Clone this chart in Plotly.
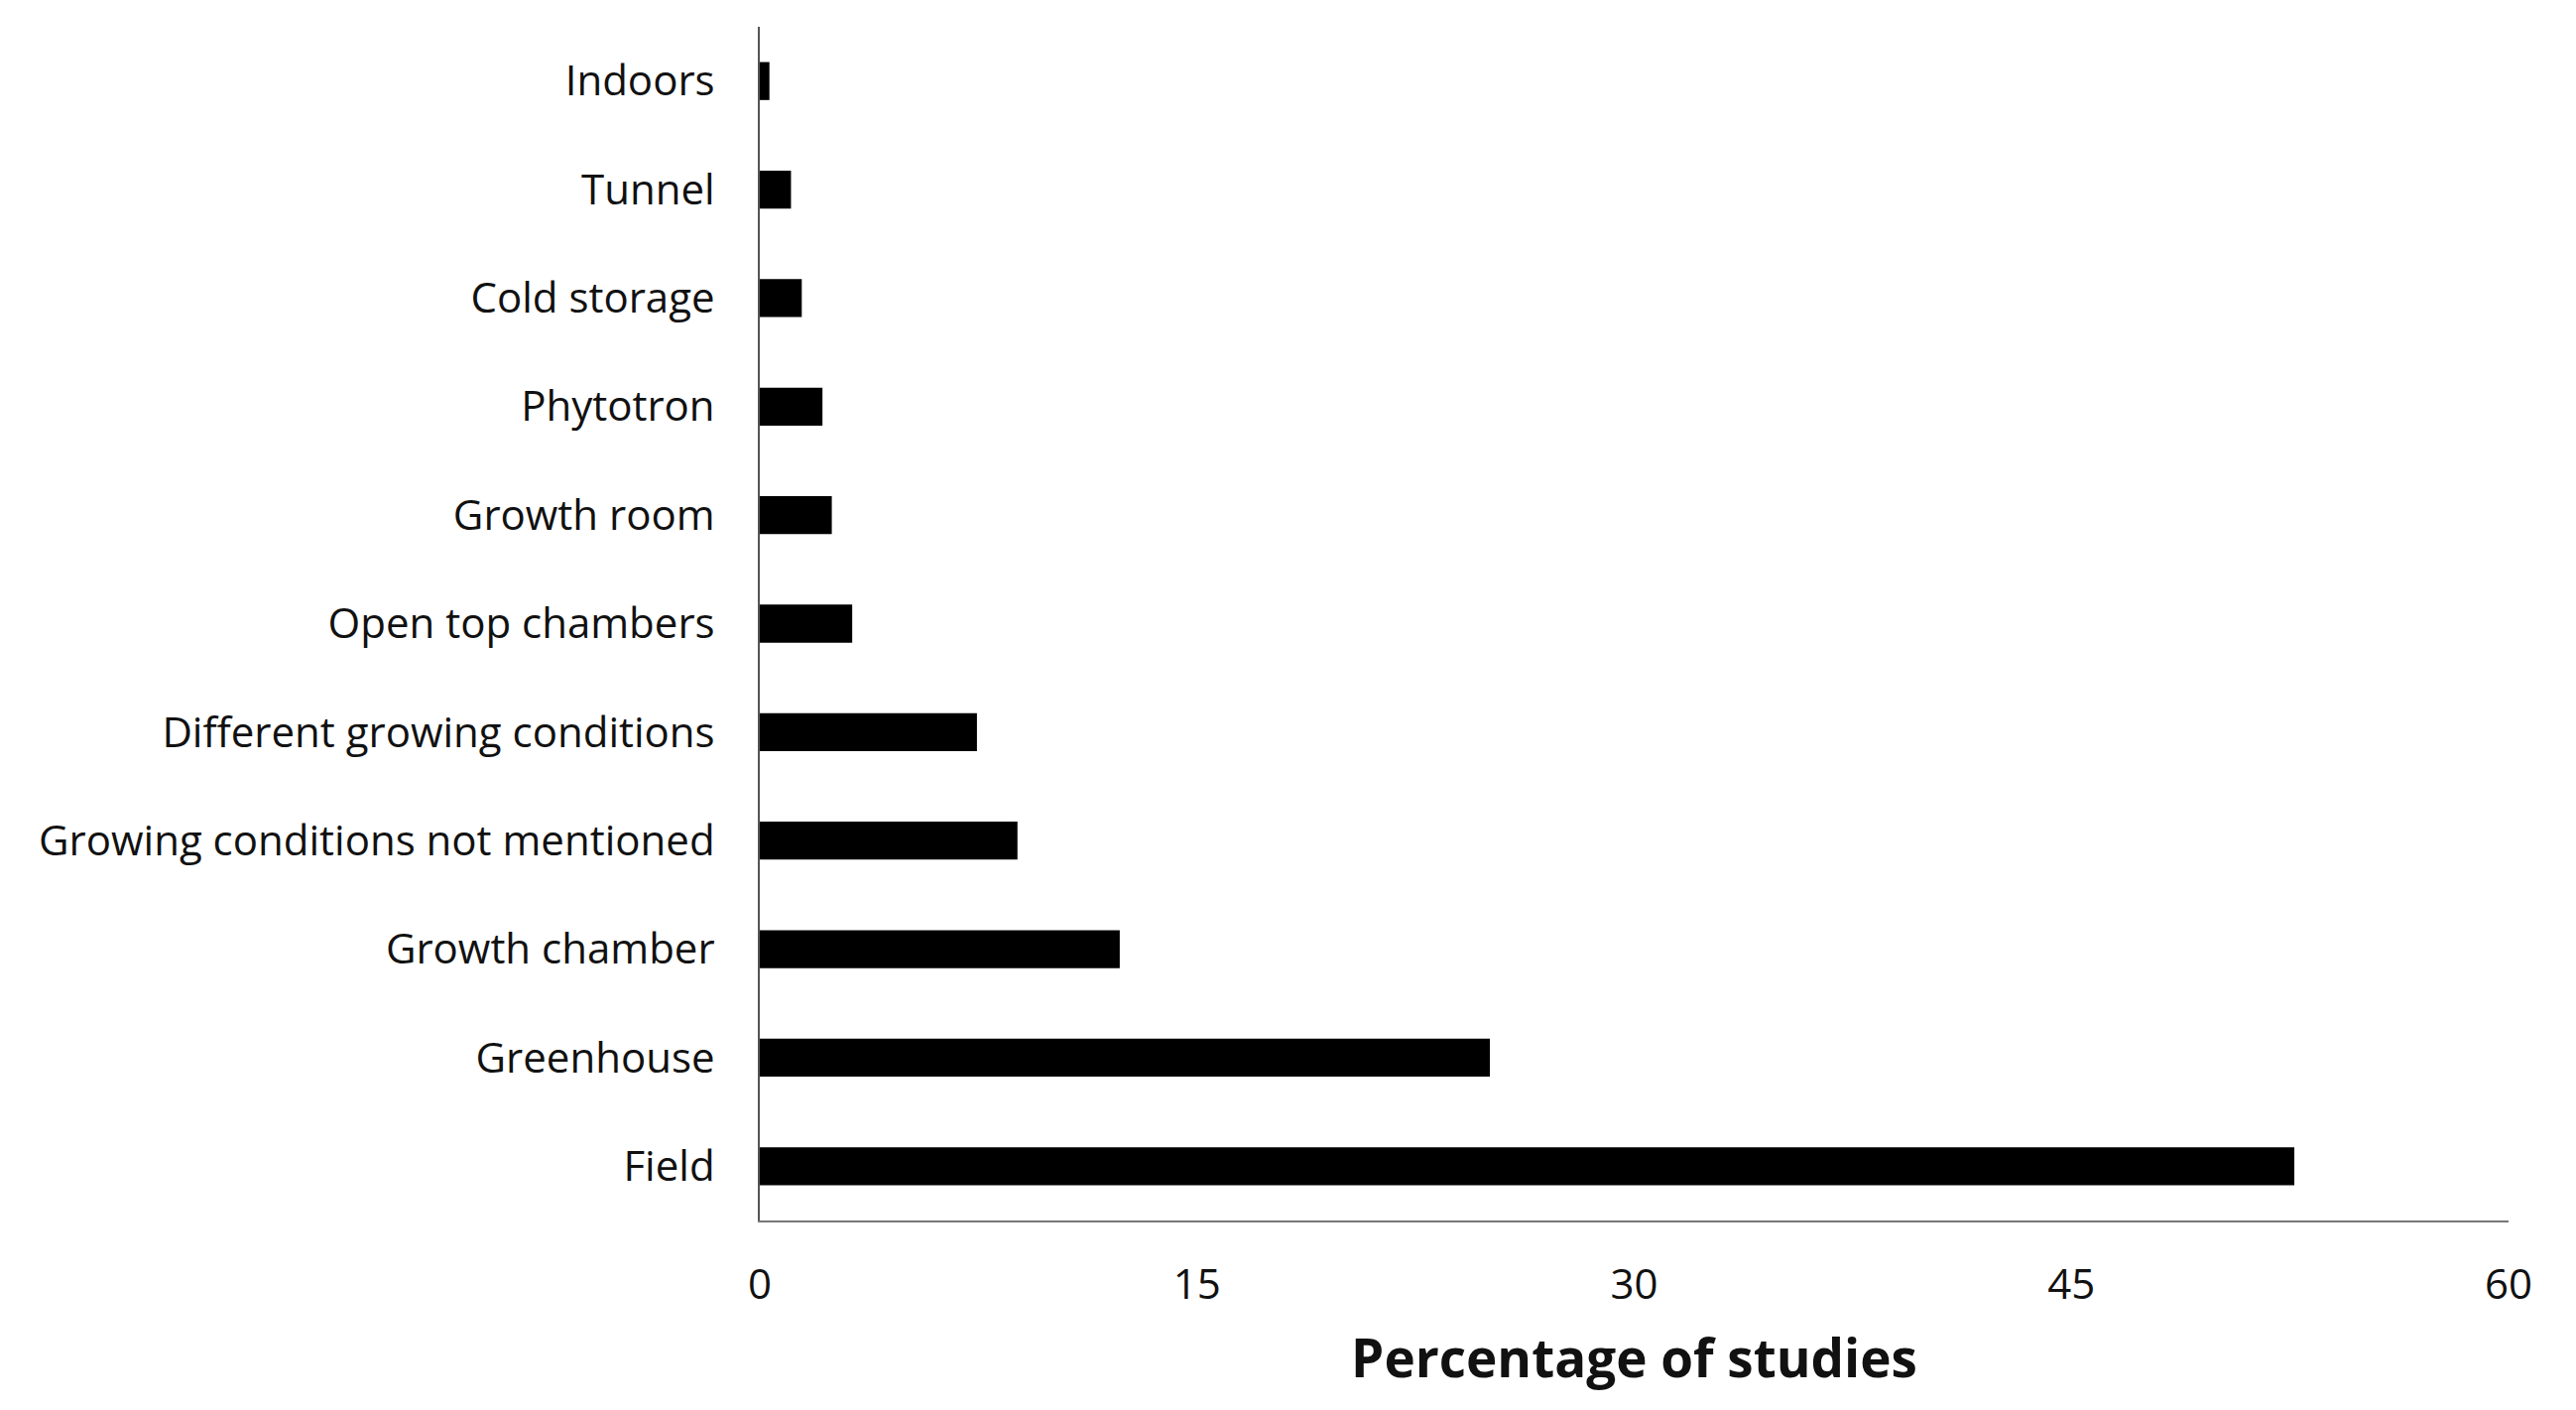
import plotly.graph_objects as go

categories = ["Field", "Greenhouse", "Growth chamber", "Growing conditions not mentioned",
              "Different growing conditions", "Open top chambers", "Growth room",
              "Phytotron", "Cold storage", "Tunnel", "Indoors"]
values = [52.65, 25.05, 12.35, 8.84, 7.45, 3.17, 2.47, 2.15, 1.44, 1.07, 0.33]
x_ticks = [0, 15, 30, 45, 60]

FONT = "Open Sans"

fig = go.Figure(go.Bar(
    x=values, y=categories, orientation="h",
    marker=dict(color="black", line=dict(width=0)),
))

fig.update_layout(
    width=2597, height=1421,
    margin=dict(l=758, r=76, t=19, b=199, autoexpand=False),
    paper_bgcolor="white", plot_bgcolor="white",
    bargap=0.65,
    showlegend=False,
    font=dict(family=FONT, color="#111111"),
)
fig.update_xaxes(
    range=[0, 60], tickvals=x_ticks, ticktext=[str(v) for v in x_ticks],
    showgrid=False, zeroline=False,
    showline=True, linecolor="#777777", linewidth=2,
    ticks="", ticklabelstandoff=27,
    tickfont=dict(family=FONT, size=42, color="#111111"),
    title=dict(text="<b>Percentage of studies</b>", standoff=30,
               font=dict(family=FONT, size=53, color="#111111")),
)
fig.update_yaxes(
    categoryorder="array", categoryarray=categories,
    range=[-0.5, 10.5],
    showgrid=False, zeroline=False,
    showline=True, linecolor="#555555", linewidth=2,
    ticks="", ticklabelstandoff=35,
    tickfont=dict(family=FONT, size=42, color="#111111"),
)

fig.write_html("out.html")
